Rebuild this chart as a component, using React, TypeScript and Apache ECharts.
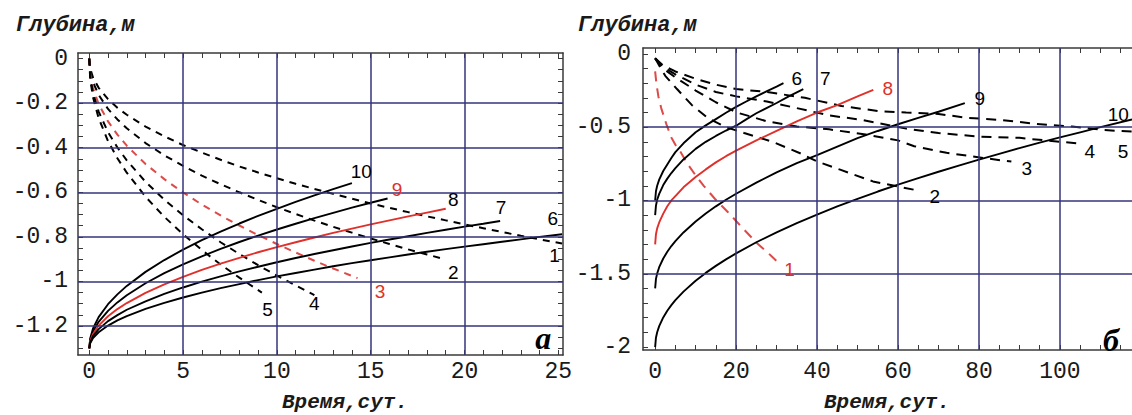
import { useEffect, useRef } from "react";
import * as echarts from "echarts";

type Pt = [number, number];

// ---------- Panel а (left): time 0..25 days ----------
const aSolid10: Pt[] = [[0,-1.30],[0.05,-1.256],[0.2,-1.211],[0.5,-1.16],[1,-1.102],[1.5,-1.058],[2,-1.02],[3,-0.957],[4,-0.904],[5,-0.857],[6,-0.815],[7,-0.776],[8,-0.74],[9,-0.706],[10,-0.674],[11,-0.643],[12,-0.614],[13,-0.586],[14,-0.559]];
const aSolid9: Pt[] = [[0,-1.30],[0.05,-1.262],[0.2,-1.225],[0.5,-1.181],[1,-1.132],[1.5,-1.094],[2,-1.062],[3,-1.008],[4,-0.963],[5,-0.923],[6,-0.887],[7,-0.854],[8,-0.823],[9,-0.794],[10,-0.767],[11,-0.741],[12,-0.716],[13,-0.692],[14,-0.669],[15,-0.647],[15.9,-0.628]];
const aSolid8Red: Pt[] = [[0,-1.30],[0.05,-1.268],[0.2,-1.236],[0.5,-1.198],[1,-1.156],[1.5,-1.124],[2,-1.097],[3,-1.051],[4,-1.013],[5,-0.979],[6,-0.948],[7,-0.92],[8,-0.894],[9,-0.869],[10,-0.846],[11,-0.824],[12,-0.803],[13,-0.782],[14,-0.763],[15,-0.744],[16,-0.726],[17,-0.708],[18,-0.691],[19,-0.674]];
const aSolid7: Pt[] = [[0,-1.30],[0.05,-1.273],[0.2,-1.245],[0.5,-1.214],[1,-1.178],[1.5,-1.151],[2,-1.127],[3,-1.089],[4,-1.056],[5,-1.027],[6,-1.001],[7,-0.977],[8,-0.955],[9,-0.934],[10,-0.914],[11,-0.895],[12,-0.877],[13,-0.86],[14,-0.843],[15,-0.827],[16,-0.812],[17,-0.797],[18,-0.782],[19,-0.768],[20,-0.754],[21,-0.741],[21.9,-0.729]];
const aSolid6: Pt[] = [[0,-1.30],[0.05,-1.277],[0.2,-1.254],[0.5,-1.228],[1,-1.198],[1.5,-1.175],[2,-1.156],[3,-1.123],[4,-1.096],[5,-1.072],[6,-1.05],[7,-1.03],[8,-1.012],[9,-0.994],[10,-0.977],[11,-0.962],[12,-0.947],[13,-0.932],[14,-0.918],[15,-0.905],[16,-0.892],[17,-0.879],[18,-0.867],[19,-0.855],[20,-0.844],[21,-0.833],[22,-0.822],[23,-0.811],[24,-0.8],[25.2,-0.788]];

const aDash1: Pt[] = [[0,0],[0.05,-0.045],[0.2,-0.085],[0.5,-0.131],[1,-0.182],[1.5,-0.221],[2,-0.252],[3,-0.305],[4,-0.349],[5,-0.388],[6,-0.422],[7,-0.454],[8,-0.484],[9,-0.511],[10,-0.537],[11,-0.562],[12,-0.585],[13,-0.607],[14,-0.629],[15,-0.65],[16,-0.67],[17,-0.689],[18,-0.708],[19,-0.726],[20,-0.744],[21,-0.761],[22,-0.778],[23,-0.795],[24,-0.811],[25.2,-0.83]];
const aDash2: Pt[] = [[0,0],[0.05,-0.055],[0.2,-0.106],[0.5,-0.163],[1,-0.226],[1.5,-0.273],[2,-0.313],[3,-0.379],[4,-0.434],[5,-0.481],[6,-0.525],[7,-0.564],[8,-0.6],[9,-0.634],[10,-0.667],[11,-0.697],[12,-0.727],[13,-0.755],[14,-0.781],[15,-0.807],[16,-0.832],[17,-0.856],[18,-0.879],[18.8,-0.897]];
const aDash3Red: Pt[] = [[0,0],[0.05,-0.069],[0.2,-0.132],[0.5,-0.204],[1,-0.282],[1.5,-0.341],[2,-0.391],[3,-0.473],[4,-0.541],[5,-0.601],[6,-0.655],[7,-0.704],[8,-0.749],[9,-0.792],[10,-0.832],[11,-0.87],[12,-0.907],[13,-0.942],[14.3,-0.985]];
const aDash4: Pt[] = [[0,0],[0.05,-0.081],[0.2,-0.155],[0.5,-0.238],[1,-0.33],[1.5,-0.399],[2,-0.457],[3,-0.553],[4,-0.633],[5,-0.703],[6,-0.766],[7,-0.824],[8,-0.877],[9,-0.927],[10,-0.974],[11,-1.018],[12,-1.061]];
const aDash5: Pt[] = [[0,0],[0.05,-0.091],[0.2,-0.174],[0.5,-0.267],[1,-0.37],[1.5,-0.447],[2,-0.512],[3,-0.62],[4,-0.71],[5,-0.788],[6,-0.859],[7,-0.924],[8,-0.983],[9.2,-1.05]];

// curve labels: text, x, y, red?
const aLabels: [string, number, number, boolean][] = [
  ["10", 14.5, -0.505, false], ["9", 16.4, -0.587, true], ["8", 19.4, -0.632, false],
  ["7", 21.95, -0.667, false], ["6", 24.7, -0.718, false], ["1", 24.8, -0.883, false],
  ["2", 19.4, -0.96, false], ["3", 15.5, -1.045, true], ["4", 12.0, -1.1, false], ["5", 9.5, -1.127, false],
];
const aLetter: [string, number, number] = ["а", 24.2, -1.255];

const aXLabels = [0, 5, 10, 15, 20, 25];
const aYLabels = [0, -0.2, -0.4, -0.6, -0.8, -1, -1.2];
const aXGridLines = [5, 10, 15, 20];
const aYGridLines = [-0.2, -0.4, -0.6, -0.8, -1, -1.2];

// ---------- Panel б (right): time 0..~118 days ----------
const bSolid6: Pt[] = [[0,-1.0],[0.2,-0.937],[0.5,-0.9],[1,-0.858],[2,-0.799],[3,-0.754],[4,-0.71],[5,-0.67],[7,-0.61],[10,-0.535],[12.5,-0.488],[15,-0.445],[17.5,-0.402],[20,-0.362],[22.5,-0.325],[25,-0.29],[27.5,-0.256],[30,-0.224],[31.7,-0.2]];
const bSolid7: Pt[] = [[0,-1.1],[0.2,-1.035],[0.5,-0.995],[1,-0.955],[2,-0.895],[3,-0.851],[4,-0.813],[5,-0.78],[7,-0.72],[10,-0.648],[12.5,-0.6],[15,-0.56],[17.5,-0.523],[20,-0.49],[22.5,-0.447],[25,-0.405],[27.5,-0.37],[30,-0.335],[33,-0.29],[36.6,-0.241]];
const bSolid8Red: Pt[] = [[0,-1.3],[0.2,-1.23],[0.5,-1.19],[1,-1.15],[2,-1.09],[3,-1.04],[4,-1.0],[5,-0.97],[7,-0.91],[10,-0.84],[12.5,-0.788],[15,-0.74],[17.5,-0.698],[20,-0.66],[25,-0.59],[30,-0.525],[35,-0.46],[40,-0.4],[45,-0.35],[50,-0.29],[53.9,-0.245]];
const bSolid9: Pt[] = [[0,-1.6],[0.2,-1.535],[0.5,-1.498],[1,-1.455],[2,-1.396],[3,-1.35],[4,-1.311],[5,-1.277],[7,-1.218],[10,-1.143],[12.5,-1.089],[15,-1.04],[17.5,-0.995],[20,-0.954],[25,-0.878],[30,-0.809],[35,-0.745],[40,-0.69],[45,-0.632],[50,-0.575],[55,-0.526],[60,-0.48],[65,-0.437],[70,-0.395],[76.5,-0.336]];
const bSolid10: Pt[] = [[0,-2.0],[0.2,-1.936],[0.5,-1.899],[1,-1.857],[2,-1.798],[3,-1.752],[4,-1.714],[5,-1.68],[7,-1.622],[10,-1.548],[12.5,-1.494],[15,-1.446],[17.5,-1.402],[20,-1.361],[25,-1.285],[30,-1.217],[35,-1.154],[40,-1.096],[45,-1.041],[50,-0.989],[55,-0.939],[60,-0.892],[65,-0.847],[70,-0.804],[75,-0.762],[80,-0.721],[85,-0.682],[90,-0.643],[95,-0.606],[100,-0.57],[105,-0.535],[110,-0.5],[117.8,-0.448]];

const bDash1Red: Pt[] = [[0,-0.12],[0.3,-0.2],[0.8,-0.29],[1.5,-0.37],[2.9,-0.49],[4,-0.57],[5,-0.62],[6.2,-0.666],[8,-0.75],[9.9,-0.825],[12,-0.9],[14.8,-0.99],[18,-1.08],[21,-1.17],[25.1,-1.29],[28,-1.36],[30.6,-1.43]];
const bDash2: Pt[] = [[0,-0.03],[1,-0.08],[2.5,-0.15],[5.4,-0.24],[9.1,-0.35],[13.1,-0.44],[17.5,-0.5],[22,-0.54],[29,-0.6],[36,-0.68],[40,-0.734],[45.7,-0.79],[53.8,-0.87],[60,-0.905],[64,-0.927]];
const bDash3: Pt[] = [[0,-0.03],[2,-0.1],[5,-0.16],[10,-0.25],[15,-0.33],[20.2,-0.4],[27.6,-0.46],[35,-0.495],[43,-0.515],[52,-0.55],[60,-0.59],[64,-0.63],[72,-0.675],[81,-0.71],[88,-0.735]];
const bDash4: Pt[] = [[0,-0.03],[2,-0.09],[5,-0.14],[10,-0.21],[15,-0.26],[20,-0.29],[27.6,-0.325],[35,-0.37],[43,-0.42],[51,-0.45],[62,-0.51],[70,-0.54],[80,-0.564],[90,-0.573],[100,-0.6],[104.5,-0.61]];
const bDash5: Pt[] = [[0,-0.03],[2,-0.08],[5,-0.12],[10,-0.17],[15,-0.21],[20,-0.24],[27.6,-0.26],[37,-0.3],[46,-0.355],[55,-0.39],[62,-0.4],[70,-0.41],[77,-0.436],[85,-0.45],[94,-0.477],[103,-0.496],[111,-0.52],[117.8,-0.53]];

const bLabels: [string, number, number, boolean][] = [
  ["6", 35, -0.166, false], ["7", 42, -0.166, false], ["8", 57.5, -0.234, true],
  ["9", 80.2, -0.302, false], ["10", 114.4, -0.416, false], ["2", 69.1, -0.973, false],
  ["3", 91.8, -0.779, false], ["4", 107.4, -0.666, false], ["5", 115.6, -0.666, false],
  ["1", 33.2, -1.472, true],
];
const bLetter: [string, number, number] = ["б", 112.6, -1.95];

const bXLabels = [0, 20, 40, 60, 80, 100];
const bYLabels = [0, -0.5, -1, -1.5, -2];
const bXGridLines = [20, 40, 60, 80, 100];
const bYGridLines = [-0.5, -1, -1.5];

const yTitle = "Глубина,м";
const xTitle = "Время,сут.";

// ---------- styling ----------
const BLACK = "#000000";
const RED = "#e0302b";
const RED_DASH = "#dd4a48";
const GRIDC = "#34347a";
const FRAME = "#3a3a3a";
const TEXT = "#1a1a1a";
const MONO = '"Liberation Mono", "DejaVu Sans Mono", monospace';

const range = (from: number, to: number, step: number) => {
  const out: number[] = [];
  const n = Math.round((to - from) / step);
  for (let i = 0; i <= n; i++) out.push(Math.round((from + i * step) * 1000) / 1000);
  return out;
};

const fmt = (v: number) => String(Math.round(v * 100) / 100);

function frameAxis(extra: any) {
  return {
    type: "value",
    axisLine: { show: true, onZero: false, lineStyle: { color: FRAME, width: 1.5 } },
    axisTick: { show: true, inside: true, length: 5, lineStyle: { color: FRAME, width: 1 } },
    axisLabel: { show: false },
    splitLine: { show: false },
    ...extra,
  };
}

function lineSeries(data: Pt[], xi: number, yi: number, color: string, dashed: boolean) {
  return {
    type: "line",
    xAxisIndex: xi,
    yAxisIndex: yi,
    data,
    symbol: "none",
    showSymbol: false,
    smooth: false,
    silent: true,
    z: 3,
    lineStyle: dashed
      ? { color, width: 2, type: xi === 0 ? [7, 6] : [10, 7] }
      : { color, width: 1.9, type: "solid" },
  };
}

function gridLineSeries(xi: number, yi: number, xs: number[], ys: number[]) {
  return {
    type: "line",
    xAxisIndex: xi,
    yAxisIndex: yi,
    data: [] as Pt[],
    symbol: "none",
    silent: true,
    z: 1,
    markLine: {
      silent: true,
      symbol: ["none", "none"],
      label: { show: false },
      lineStyle: { color: GRIDC, width: 1.5, type: "solid" },
      data: [...xs.map((v) => ({ xAxis: v })), ...ys.map((v) => ({ yAxis: v }))],
    },
  };
}

function labelSeries(xi: number, yi: number, labels: [string, number, number, boolean][]) {
  return {
    type: "scatter",
    xAxisIndex: xi,
    yAxisIndex: yi,
    symbolSize: 1,
    itemStyle: { color: "rgba(0,0,0,0)" },
    silent: true,
    z: 5,
    label: {
      show: true,
      position: "inside",
      formatter: "{b}",
      fontFamily: '"Liberation Sans", Arial, sans-serif',
      fontSize: 19,
      color: BLACK,
      opacity: 1,
      textBorderWidth: 0,
    },
    data: labels.map(([t, x, y, red]) => ({
      name: t,
      value: [x, y],
      label: { color: red ? RED : BLACK, textBorderWidth: 0, opacity: 1 },
    })),
  };
}

function letterSeries(xi: number, yi: number, l: [string, number, number]) {
  return {
    type: "scatter",
    xAxisIndex: xi,
    yAxisIndex: yi,
    symbolSize: 1,
    itemStyle: { color: "rgba(0,0,0,0)" },
    silent: true,
    z: 5,
    label: {
      show: true,
      position: "inside",
      formatter: "{b}",
      fontFamily: '"Liberation Serif", serif',
      fontStyle: "italic",
      fontWeight: "bold",
      fontSize: 32,
      color: BLACK,
      opacity: 1,
      textBorderWidth: 0,
    },
    data: [{ name: l[0], value: [l[1], l[2]] }],
  };
}

export default function App() {
  const ref = useRef<HTMLDivElement>(null);

  useEffect(() => {
    document.body.style.margin = "0";
    if (!ref.current) return;
    const chart = echarts.init(ref.current, undefined, { renderer: "svg" });

    const aX = { min: -0.6, max: 25.25 };
    const aY = { min: -1.33, max: 0.025 };
    const bX = { min: -3, max: 117.8 };
    const bY = { min: -2.02, max: 0.04 };

    const tickLabel = { show: true, fontFamily: MONO, fontSize: 23, color: TEXT, formatter: fmt };
    const titleStyle = { fontFamily: MONO, fontStyle: "italic", fontWeight: "bold", fill: TEXT };

    const option: any = {
      animation: false,
      backgroundColor: "#ffffff",
      grid: [
        { left: 78, right: 569, top: 53, bottom: 60 },
        { left: 643, right: 0, top: 48, bottom: 65 },
      ],
      xAxis: [
        frameAxis({
          gridIndex: 0, position: "bottom", ...aX,
          axisTick: { show: true, inside: true, length: 5, customValues: range(0, 25, 1), lineStyle: { color: FRAME } },
          axisLabel: { ...tickLabel, customValues: aXLabels, margin: 5 },
        }),
        frameAxis({
          gridIndex: 0, position: "top", ...aX,
          axisTick: { show: true, inside: true, length: 5, customValues: range(0, 25, 1), lineStyle: { color: FRAME } },
        }),
        frameAxis({
          gridIndex: 1, position: "bottom", ...bX,
          axisTick: { show: true, inside: true, length: 5, customValues: range(0, 115, 5), lineStyle: { color: FRAME } },
          axisLabel: { ...tickLabel, customValues: bXLabels, margin: 10 },
        }),
        frameAxis({
          gridIndex: 1, position: "top", ...bX,
          axisTick: { show: true, inside: true, length: 5, customValues: range(0, 115, 5), lineStyle: { color: FRAME } },
        }),
      ],
      yAxis: [
        frameAxis({
          gridIndex: 0, position: "left", ...aY,
          axisTick: { show: true, inside: true, length: 5, customValues: range(-1.3, 0, 0.05), lineStyle: { color: FRAME } },
          axisLabel: { ...tickLabel, customValues: aYLabels, margin: 10 },
        }),
        frameAxis({
          gridIndex: 0, position: "right", ...aY,
          axisTick: { show: true, inside: true, length: 5, customValues: range(-1.3, 0, 0.05), lineStyle: { color: FRAME } },
        }),
        frameAxis({
          gridIndex: 1, position: "left", ...bY,
          axisTick: { show: true, inside: true, length: 5, customValues: range(-2, 0, 0.1), lineStyle: { color: FRAME } },
          axisLabel: { ...tickLabel, customValues: bYLabels, margin: 12 },
        }),
      ],
      graphic: [
        { type: "text", left: 16, top: 14, style: { ...titleStyle, text: yTitle, fontSize: 22 } },
        { type: "text", left: 578, top: 14, style: { ...titleStyle, text: yTitle, fontSize: 22 } },
        { type: "text", left: 282, top: 392, style: { ...titleStyle, text: xTitle, fontSize: 21 } },
        { type: "text", left: 824, top: 392, style: { ...titleStyle, text: xTitle, fontSize: 21 } },
      ],
      series: [
        gridLineSeries(0, 0, aXGridLines, aYGridLines),
        gridLineSeries(2, 2, bXGridLines, bYGridLines),
        lineSeries(aDash1, 0, 0, BLACK, true),
        lineSeries(aDash2, 0, 0, BLACK, true),
        lineSeries(aDash3Red, 0, 0, RED_DASH, true),
        lineSeries(aDash4, 0, 0, BLACK, true),
        lineSeries(aDash5, 0, 0, BLACK, true),
        lineSeries(aSolid10, 0, 0, BLACK, false),
        lineSeries(aSolid9, 0, 0, BLACK, false),
        lineSeries(aSolid8Red, 0, 0, RED, false),
        lineSeries(aSolid7, 0, 0, BLACK, false),
        lineSeries(aSolid6, 0, 0, BLACK, false),
        lineSeries(bDash1Red, 2, 2, RED_DASH, true),
        lineSeries(bDash2, 2, 2, BLACK, true),
        lineSeries(bDash3, 2, 2, BLACK, true),
        lineSeries(bDash4, 2, 2, BLACK, true),
        lineSeries(bDash5, 2, 2, BLACK, true),
        lineSeries(bSolid6, 2, 2, BLACK, false),
        lineSeries(bSolid7, 2, 2, BLACK, false),
        lineSeries(bSolid8Red, 2, 2, RED, false),
        lineSeries(bSolid9, 2, 2, BLACK, false),
        lineSeries(bSolid10, 2, 2, BLACK, false),
        labelSeries(0, 0, aLabels),
        labelSeries(2, 2, bLabels),
        letterSeries(0, 0, aLetter),
        letterSeries(2, 2, bLetter),
      ],
    };

    chart.setOption(option);
    return () => chart.dispose();
  }, []);

  return <div ref={ref} style={{ width: 1132, height: 415 }} />;
}
